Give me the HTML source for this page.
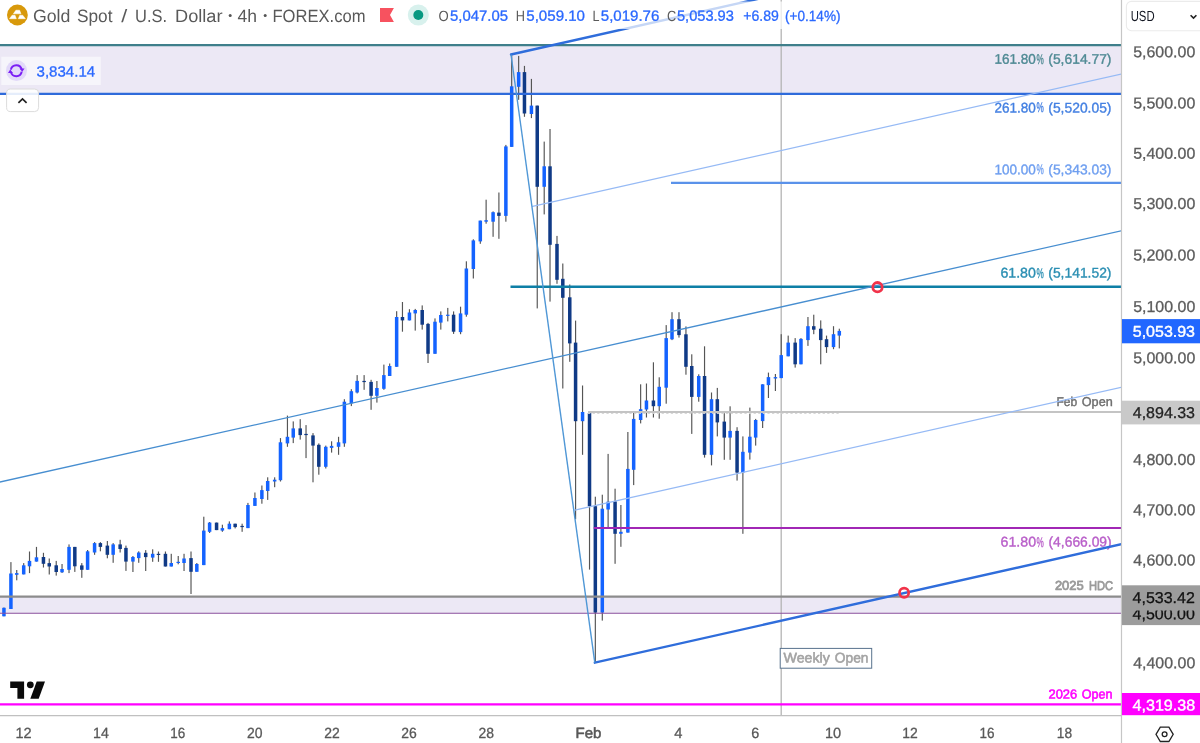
<!DOCTYPE html>
<html><head><meta charset="utf-8"><title>XAUUSD 4h</title>
<style>
html,body{margin:0;padding:0;background:#fff;}
body{width:1200px;height:743px;overflow:hidden;font-family:"Liberation Sans",sans-serif;}
svg{display:block;will-change:transform;font-family:"Liberation Sans",sans-serif;}
</style></head><body>
<svg width="1200" height="743" viewBox="0 0 1200 743">
<rect x="0" y="0" width="1200" height="743" fill="#ffffff"/>
<defs><clipPath id="pane"><rect x="0" y="0" width="1121" height="715.5"/></clipPath></defs>
<g clip-path="url(#pane)">

<rect x="0" y="45.2" width="1121" height="48.7" fill="#ece8f5"/>
<rect x="0" y="596.7" width="1121" height="16.5" fill="#ece8f5"/>
<line x1="781.2" y1="0" x2="781.2" y2="715.5" stroke="#b4b4b4" stroke-width="1.3"/>
<g>
<rect x="3.37" y="607.5" width="1.16" height="8.8" fill="#555555"/>
<rect x="2.2" y="607.8" width="3.5" height="8.5" fill="#1463ff"/>
<rect x="10.34" y="562.1" width="1.16" height="46.9" fill="#555555"/>
<rect x="9.17" y="573.5" width="3.5" height="35.5" fill="#1463ff"/>
<rect x="16.15" y="570" width="1.16" height="10.3" fill="#555555"/>
<rect x="14.98" y="573.1" width="3.5" height="1.7" fill="#1463ff"/>
<rect x="23.12" y="563.1" width="1.16" height="11.3" fill="#555555"/>
<rect x="21.95" y="565.3" width="3.5" height="9.1" fill="#1463ff"/>
<rect x="28.93" y="551.5" width="1.16" height="21.6" fill="#555555"/>
<rect x="27.76" y="560.9" width="3.5" height="5.4" fill="#1463ff"/>
<rect x="35.9" y="546.9" width="1.16" height="14.7" fill="#555555"/>
<rect x="34.73" y="557.3" width="3.5" height="4.3" fill="#1463ff"/>
<rect x="42.87" y="552.8" width="1.16" height="14.7" fill="#555555"/>
<rect x="41.7" y="557" width="3.5" height="6.8" fill="#103a86"/>
<rect x="48.68" y="558.5" width="1.16" height="16" fill="#555555"/>
<rect x="47.51" y="563.1" width="3.5" height="3.4" fill="#103a86"/>
<rect x="55.65" y="560.9" width="1.16" height="14.7" fill="#555555"/>
<rect x="54.48" y="565.3" width="3.5" height="6.7" fill="#103a86"/>
<rect x="61.46" y="564" width="1.16" height="9" fill="#555555"/>
<rect x="60.29" y="569" width="3.5" height="3.3" fill="#1463ff"/>
<rect x="68.44" y="544.4" width="1.16" height="28.7" fill="#555555"/>
<rect x="67.27" y="546.9" width="3.5" height="22.9" fill="#1463ff"/>
<rect x="74.24" y="546.9" width="1.16" height="25" fill="#555555"/>
<rect x="73.07" y="546.9" width="3.5" height="19.4" fill="#103a86"/>
<rect x="81.22" y="563.1" width="1.16" height="14.7" fill="#555555"/>
<rect x="80.05" y="565.4" width="3.5" height="4.4" fill="#103a86"/>
<rect x="87.02" y="550" width="1.16" height="19.8" fill="#555555"/>
<rect x="85.85" y="551.3" width="3.5" height="18.5" fill="#1463ff"/>
<rect x="94" y="542.1" width="1.16" height="12.7" fill="#555555"/>
<rect x="92.83" y="543.1" width="3.5" height="9.4" fill="#1463ff"/>
<rect x="99.8" y="542.1" width="1.16" height="9.2" fill="#555555"/>
<rect x="98.63" y="543.1" width="3.5" height="3.8" fill="#103a86"/>
<rect x="106.78" y="541" width="1.16" height="17.3" fill="#555555"/>
<rect x="105.61" y="545.6" width="3.5" height="9.2" fill="#103a86"/>
<rect x="112.58" y="543.1" width="1.16" height="19.7" fill="#555555"/>
<rect x="111.41" y="544.4" width="3.5" height="10.4" fill="#1463ff"/>
<rect x="119.56" y="539.8" width="1.16" height="12.7" fill="#555555"/>
<rect x="118.39" y="544.4" width="3.5" height="4.6" fill="#103a86"/>
<rect x="125.37" y="545.6" width="1.16" height="25.3" fill="#555555"/>
<rect x="124.2" y="547.9" width="3.5" height="13.7" fill="#103a86"/>
<rect x="132.34" y="556" width="1.16" height="16" fill="#555555"/>
<rect x="131.17" y="557" width="3.5" height="4.6" fill="#1463ff"/>
<rect x="138.15" y="551.3" width="1.16" height="11.5" fill="#555555"/>
<rect x="136.98" y="552.5" width="3.5" height="5.6" fill="#1463ff"/>
<rect x="145.12" y="550.1" width="1.16" height="20.9" fill="#555555"/>
<rect x="143.95" y="552.8" width="3.5" height="4.3" fill="#103a86"/>
<rect x="152.09" y="549.3" width="1.16" height="12.5" fill="#555555"/>
<rect x="150.92" y="553.8" width="3.5" height="3.8" fill="#1463ff"/>
<rect x="157.9" y="551.5" width="1.16" height="10.3" fill="#555555"/>
<rect x="156.73" y="553.8" width="3.5" height="1.2" fill="#103a86"/>
<rect x="164.87" y="551.5" width="1.16" height="15" fill="#555555"/>
<rect x="163.7" y="553.8" width="3.5" height="12.7" fill="#103a86"/>
<rect x="170.68" y="553.8" width="1.16" height="12.7" fill="#555555"/>
<rect x="169.51" y="563" width="3.5" height="3.5" fill="#1463ff"/>
<rect x="177.65" y="556" width="1.16" height="8.3" fill="#555555"/>
<rect x="176.48" y="561.8" width="3.5" height="1.2" fill="#1463ff"/>
<rect x="183.46" y="553.8" width="1.16" height="17.2" fill="#555555"/>
<rect x="182.29" y="558.5" width="3.5" height="4.5" fill="#1463ff"/>
<rect x="190.43" y="551.5" width="1.16" height="42.5" fill="#555555"/>
<rect x="189.26" y="558.1" width="3.5" height="13.7" fill="#103a86"/>
<rect x="196.24" y="563" width="1.16" height="8.8" fill="#555555"/>
<rect x="195.07" y="564" width="3.5" height="7.8" fill="#1463ff"/>
<rect x="203.21" y="516.7" width="1.16" height="48.4" fill="#555555"/>
<rect x="202.04" y="530.6" width="3.5" height="34.5" fill="#1463ff"/>
<rect x="209.02" y="522" width="1.16" height="11" fill="#555555"/>
<rect x="207.85" y="522.6" width="3.5" height="9.2" fill="#1463ff"/>
<rect x="215.99" y="522.6" width="1.16" height="7.5" fill="#555555"/>
<rect x="214.82" y="522.6" width="3.5" height="7.5" fill="#103a86"/>
<rect x="221.8" y="524.7" width="1.16" height="7.1" fill="#555555"/>
<rect x="220.63" y="528.1" width="3.5" height="2.5" fill="#1463ff"/>
<rect x="228.77" y="521.4" width="1.16" height="7.8" fill="#555555"/>
<rect x="227.6" y="523.7" width="3.5" height="5.5" fill="#1463ff"/>
<rect x="234.58" y="523.7" width="1.16" height="4.7" fill="#555555"/>
<rect x="233.41" y="523.7" width="3.5" height="3.4" fill="#103a86"/>
<rect x="241.55" y="523.7" width="1.16" height="8.1" fill="#555555"/>
<rect x="240.38" y="525.9" width="3.5" height="1.2" fill="#103a86"/>
<rect x="247.36" y="502.9" width="1.16" height="25.2" fill="#555555"/>
<rect x="246.19" y="505" width="3.5" height="23.1" fill="#1463ff"/>
<rect x="254.33" y="492.5" width="1.16" height="13.4" fill="#555555"/>
<rect x="253.16" y="498" width="3.5" height="7.9" fill="#1463ff"/>
<rect x="261.3" y="485.5" width="1.16" height="18.2" fill="#555555"/>
<rect x="260.13" y="490.1" width="3.5" height="8.9" fill="#1463ff"/>
<rect x="267.11" y="477.3" width="1.16" height="22.6" fill="#555555"/>
<rect x="265.94" y="481" width="3.5" height="10" fill="#1463ff"/>
<rect x="274.08" y="477.3" width="1.16" height="9.9" fill="#555555"/>
<rect x="272.91" y="479.7" width="3.5" height="1.8" fill="#1463ff"/>
<rect x="279.89" y="438.1" width="1.16" height="43.4" fill="#555555"/>
<rect x="278.72" y="442.3" width="3.5" height="37.9" fill="#1463ff"/>
<rect x="286.86" y="415.6" width="1.16" height="31.2" fill="#555555"/>
<rect x="285.69" y="436.8" width="3.5" height="6.6" fill="#1463ff"/>
<rect x="292.67" y="421.4" width="1.16" height="21.7" fill="#555555"/>
<rect x="291.5" y="428.4" width="3.5" height="9.2" fill="#1463ff"/>
<rect x="299.64" y="419.2" width="1.16" height="20.4" fill="#555555"/>
<rect x="298.47" y="428.4" width="3.5" height="6.7" fill="#103a86"/>
<rect x="305.45" y="425.1" width="1.16" height="33" fill="#555555"/>
<rect x="304.28" y="433.9" width="3.5" height="1.2" fill="#103a86"/>
<rect x="312.42" y="433.1" width="1.16" height="49.2" fill="#555555"/>
<rect x="311.25" y="435.4" width="3.5" height="10.2" fill="#103a86"/>
<rect x="318.23" y="443.4" width="1.16" height="31.3" fill="#555555"/>
<rect x="317.06" y="444.8" width="3.5" height="22" fill="#103a86"/>
<rect x="325.2" y="445.6" width="1.16" height="22.9" fill="#555555"/>
<rect x="324.03" y="446.8" width="3.5" height="20" fill="#1463ff"/>
<rect x="331.01" y="441.3" width="1.16" height="11.3" fill="#555555"/>
<rect x="329.84" y="445.9" width="3.5" height="2" fill="#1463ff"/>
<rect x="337.98" y="436.8" width="1.16" height="18" fill="#555555"/>
<rect x="336.81" y="442.3" width="3.5" height="4.5" fill="#1463ff"/>
<rect x="343.79" y="399.2" width="1.16" height="47.6" fill="#555555"/>
<rect x="342.62" y="401.7" width="3.5" height="41.7" fill="#1463ff"/>
<rect x="350.76" y="389.2" width="1.16" height="16.9" fill="#555555"/>
<rect x="349.59" y="391.2" width="3.5" height="12.2" fill="#1463ff"/>
<rect x="356.57" y="375.1" width="1.16" height="18.3" fill="#555555"/>
<rect x="355.4" y="380.9" width="3.5" height="11.6" fill="#1463ff"/>
<rect x="363.54" y="375.1" width="1.16" height="14.7" fill="#555555"/>
<rect x="362.37" y="380.9" width="3.5" height="1.2" fill="#103a86"/>
<rect x="370.51" y="379.8" width="1.16" height="30" fill="#555555"/>
<rect x="369.34" y="381.9" width="3.5" height="13.9" fill="#103a86"/>
<rect x="376.32" y="381" width="1.16" height="21.6" fill="#555555"/>
<rect x="375.15" y="388" width="3.5" height="7.8" fill="#1463ff"/>
<rect x="383.29" y="364.6" width="1.16" height="25.2" fill="#555555"/>
<rect x="382.12" y="375.1" width="3.5" height="13.7" fill="#1463ff"/>
<rect x="389.1" y="363.5" width="1.16" height="12.5" fill="#555555"/>
<rect x="387.93" y="366" width="3.5" height="10" fill="#1463ff"/>
<rect x="396.07" y="311.2" width="1.16" height="55.6" fill="#555555"/>
<rect x="394.9" y="317" width="3.5" height="49.8" fill="#1463ff"/>
<rect x="401.88" y="302" width="1.16" height="29.7" fill="#555555"/>
<rect x="400.71" y="317" width="3.5" height="3.4" fill="#103a86"/>
<rect x="408.85" y="309.2" width="1.16" height="11.2" fill="#555555"/>
<rect x="407.68" y="312.5" width="3.5" height="7.9" fill="#1463ff"/>
<rect x="414.66" y="308.9" width="1.16" height="21.7" fill="#555555"/>
<rect x="413.49" y="310" width="3.5" height="3.4" fill="#1463ff"/>
<rect x="421.63" y="305.4" width="1.16" height="24.2" fill="#555555"/>
<rect x="420.46" y="310" width="3.5" height="14.7" fill="#103a86"/>
<rect x="427.44" y="322.9" width="1.16" height="40.1" fill="#555555"/>
<rect x="426.27" y="323.9" width="3.5" height="29.9" fill="#103a86"/>
<rect x="434.41" y="318.4" width="1.16" height="35.4" fill="#555555"/>
<rect x="433.24" y="321.7" width="3.5" height="32.1" fill="#1463ff"/>
<rect x="440.22" y="311.4" width="1.16" height="18.2" fill="#555555"/>
<rect x="439.05" y="315" width="3.5" height="7.6" fill="#1463ff"/>
<rect x="447.19" y="307.9" width="1.16" height="13.5" fill="#555555"/>
<rect x="446.02" y="314.7" width="3.5" height="1.2" fill="#1463ff"/>
<rect x="453" y="311.4" width="1.16" height="22.5" fill="#555555"/>
<rect x="451.83" y="314.7" width="3.5" height="17" fill="#103a86"/>
<rect x="459.98" y="306.7" width="1.16" height="27.5" fill="#555555"/>
<rect x="458.81" y="313.4" width="3.5" height="18.7" fill="#1463ff"/>
<rect x="465.78" y="261.3" width="1.16" height="55.4" fill="#555555"/>
<rect x="464.61" y="268.5" width="3.5" height="46.2" fill="#1463ff"/>
<rect x="472.76" y="239.3" width="1.16" height="39.2" fill="#555555"/>
<rect x="471.59" y="240.4" width="3.5" height="28.6" fill="#1463ff"/>
<rect x="479.73" y="220.6" width="1.16" height="23.2" fill="#555555"/>
<rect x="478.56" y="220.6" width="3.5" height="20.8" fill="#1463ff"/>
<rect x="485.54" y="199.7" width="1.16" height="24" fill="#555555"/>
<rect x="484.37" y="220.2" width="3.5" height="1.5" fill="#1463ff"/>
<rect x="492.51" y="211.4" width="1.16" height="25.4" fill="#555555"/>
<rect x="491.34" y="212.2" width="3.5" height="9.5" fill="#1463ff"/>
<rect x="498.32" y="192.5" width="1.16" height="46.3" fill="#555555"/>
<rect x="497.15" y="212.6" width="3.5" height="3.3" fill="#103a86"/>
<rect x="505.29" y="144.9" width="1.16" height="76.8" fill="#555555"/>
<rect x="504.12" y="146.4" width="3.5" height="69.5" fill="#1463ff"/>
<rect x="511.1" y="54.7" width="1.16" height="92.2" fill="#555555"/>
<rect x="509.93" y="86.3" width="3.5" height="60.6" fill="#1463ff"/>
<rect x="518.07" y="55.9" width="1.16" height="43.9" fill="#555555"/>
<rect x="516.9" y="72.1" width="3.5" height="14.7" fill="#1463ff"/>
<rect x="523.88" y="65.9" width="1.16" height="50.9" fill="#555555"/>
<rect x="522.71" y="72.1" width="3.5" height="41.4" fill="#103a86"/>
<rect x="530.85" y="78.9" width="1.16" height="39.2" fill="#555555"/>
<rect x="529.68" y="105.6" width="3.5" height="8.4" fill="#1463ff"/>
<rect x="536.66" y="105.6" width="1.16" height="202.8" fill="#555555"/>
<rect x="535.49" y="105.6" width="3.5" height="81.2" fill="#103a86"/>
<rect x="543.63" y="141.6" width="1.16" height="72.8" fill="#555555"/>
<rect x="542.46" y="166.3" width="3.5" height="20.5" fill="#1463ff"/>
<rect x="549.44" y="129" width="1.16" height="172.6" fill="#555555"/>
<rect x="548.27" y="166.3" width="3.5" height="78.5" fill="#103a86"/>
<rect x="556.41" y="235.9" width="1.16" height="47.9" fill="#555555"/>
<rect x="555.24" y="243.9" width="3.5" height="35.9" fill="#103a86"/>
<rect x="562.22" y="263.5" width="1.16" height="125" fill="#555555"/>
<rect x="561.05" y="278.8" width="3.5" height="19" fill="#103a86"/>
<rect x="569.19" y="284.5" width="1.16" height="77.3" fill="#555555"/>
<rect x="568.02" y="297.3" width="3.5" height="46.1" fill="#103a86"/>
<rect x="575" y="320.6" width="1.16" height="198.6" fill="#555555"/>
<rect x="573.83" y="342.6" width="3.5" height="78.6" fill="#103a86"/>
<rect x="581.97" y="385.5" width="1.16" height="69.3" fill="#555555"/>
<rect x="580.8" y="412" width="3.5" height="9.2" fill="#1463ff"/>
<rect x="588.94" y="412.5" width="1.16" height="157.1" fill="#555555"/>
<rect x="587.77" y="413" width="3.5" height="93.2" fill="#103a86"/>
<rect x="594.75" y="496.7" width="1.16" height="166" fill="#555555"/>
<rect x="593.58" y="506.2" width="3.5" height="106.4" fill="#103a86"/>
<rect x="601.72" y="494.7" width="1.16" height="125.9" fill="#555555"/>
<rect x="600.55" y="508.7" width="3.5" height="103.9" fill="#1463ff"/>
<rect x="607.53" y="453.9" width="1.16" height="73.3" fill="#555555"/>
<rect x="606.36" y="501.7" width="3.5" height="7.8" fill="#1463ff"/>
<rect x="614.5" y="488.7" width="1.16" height="75.1" fill="#555555"/>
<rect x="613.33" y="501.4" width="3.5" height="32.4" fill="#103a86"/>
<rect x="620.31" y="505" width="1.16" height="41.8" fill="#555555"/>
<rect x="619.14" y="531.8" width="3.5" height="2" fill="#1463ff"/>
<rect x="627.28" y="432" width="1.16" height="100.6" fill="#555555"/>
<rect x="626.11" y="468.9" width="3.5" height="63.7" fill="#1463ff"/>
<rect x="633.09" y="413" width="1.16" height="72.1" fill="#555555"/>
<rect x="631.92" y="418.9" width="3.5" height="50.9" fill="#1463ff"/>
<rect x="640.06" y="384.3" width="1.16" height="39.1" fill="#555555"/>
<rect x="638.89" y="409.2" width="3.5" height="10.8" fill="#1463ff"/>
<rect x="645.87" y="383.5" width="1.16" height="34" fill="#555555"/>
<rect x="644.7" y="400.5" width="3.5" height="9" fill="#1463ff"/>
<rect x="652.84" y="362.3" width="1.16" height="55.2" fill="#555555"/>
<rect x="651.67" y="400.5" width="3.5" height="5.7" fill="#103a86"/>
<rect x="658.65" y="377.3" width="1.16" height="41.4" fill="#555555"/>
<rect x="657.48" y="386.8" width="3.5" height="19.4" fill="#1463ff"/>
<rect x="665.62" y="325.1" width="1.16" height="78.6" fill="#555555"/>
<rect x="664.45" y="338.1" width="3.5" height="49.6" fill="#1463ff"/>
<rect x="671.43" y="312.2" width="1.16" height="27.9" fill="#555555"/>
<rect x="670.26" y="319.2" width="3.5" height="20.1" fill="#1463ff"/>
<rect x="678.4" y="312.2" width="1.16" height="25.4" fill="#555555"/>
<rect x="677.23" y="319.2" width="3.5" height="15.9" fill="#103a86"/>
<rect x="685.37" y="326.4" width="1.16" height="48.3" fill="#555555"/>
<rect x="684.2" y="334.3" width="3.5" height="32.5" fill="#103a86"/>
<rect x="691.18" y="354.3" width="1.16" height="79.6" fill="#555555"/>
<rect x="690.01" y="366" width="3.5" height="30.9" fill="#103a86"/>
<rect x="698.15" y="374.3" width="1.16" height="27.4" fill="#555555"/>
<rect x="696.98" y="376" width="3.5" height="20.9" fill="#1463ff"/>
<rect x="703.96" y="346.3" width="1.16" height="111.3" fill="#555555"/>
<rect x="702.79" y="376" width="3.5" height="78.8" fill="#103a86"/>
<rect x="710.93" y="392.5" width="1.16" height="72.9" fill="#555555"/>
<rect x="709.76" y="399.2" width="3.5" height="55.6" fill="#1463ff"/>
<rect x="716.74" y="387.9" width="1.16" height="48.5" fill="#555555"/>
<rect x="715.57" y="399.2" width="3.5" height="23.2" fill="#103a86"/>
<rect x="723.71" y="413.2" width="1.16" height="46.6" fill="#555555"/>
<rect x="722.54" y="421.6" width="3.5" height="16" fill="#103a86"/>
<rect x="729.52" y="406.3" width="1.16" height="53.5" fill="#555555"/>
<rect x="728.35" y="430.9" width="3.5" height="6.7" fill="#1463ff"/>
<rect x="736.49" y="427.2" width="1.16" height="53.4" fill="#555555"/>
<rect x="735.32" y="430.9" width="3.5" height="41.7" fill="#103a86"/>
<rect x="742.3" y="436.4" width="1.16" height="97.4" fill="#555555"/>
<rect x="741.13" y="451.8" width="3.5" height="20.8" fill="#1463ff"/>
<rect x="749.27" y="407.6" width="1.16" height="52" fill="#555555"/>
<rect x="748.1" y="436.7" width="3.5" height="15.9" fill="#1463ff"/>
<rect x="755.08" y="418.9" width="1.16" height="26.7" fill="#555555"/>
<rect x="753.91" y="420" width="3.5" height="17.6" fill="#1463ff"/>
<rect x="762.05" y="384.3" width="1.16" height="43.7" fill="#555555"/>
<rect x="760.88" y="384.3" width="3.5" height="36.8" fill="#1463ff"/>
<rect x="767.86" y="372.6" width="1.16" height="25.4" fill="#555555"/>
<rect x="766.69" y="377.1" width="3.5" height="8" fill="#1463ff"/>
<rect x="774.83" y="374" width="1.16" height="17" fill="#555555"/>
<rect x="773.66" y="377.1" width="3.5" height="1.4" fill="#1463ff"/>
<rect x="780.64" y="334.2" width="1.16" height="43.9" fill="#555555"/>
<rect x="779.47" y="355.1" width="3.5" height="23" fill="#1463ff"/>
<rect x="787.61" y="335.6" width="1.16" height="20.7" fill="#555555"/>
<rect x="786.44" y="342.6" width="3.5" height="13.7" fill="#1463ff"/>
<rect x="794.59" y="338.1" width="1.16" height="29.5" fill="#555555"/>
<rect x="793.42" y="342.6" width="3.5" height="21.7" fill="#103a86"/>
<rect x="800.39" y="338.1" width="1.16" height="26.2" fill="#555555"/>
<rect x="799.22" y="338.9" width="3.5" height="25.4" fill="#1463ff"/>
<rect x="807.37" y="317" width="1.16" height="28.9" fill="#555555"/>
<rect x="806.2" y="326.2" width="3.5" height="13.9" fill="#1463ff"/>
<rect x="813.17" y="314.7" width="1.16" height="19.5" fill="#555555"/>
<rect x="812" y="326.2" width="3.5" height="3.5" fill="#103a86"/>
<rect x="820.15" y="320.4" width="1.16" height="43.9" fill="#555555"/>
<rect x="818.98" y="328.7" width="3.5" height="11.4" fill="#103a86"/>
<rect x="825.95" y="335.6" width="1.16" height="17.3" fill="#555555"/>
<rect x="824.78" y="339.2" width="3.5" height="7.9" fill="#103a86"/>
<rect x="832.93" y="326.2" width="1.16" height="23" fill="#555555"/>
<rect x="831.76" y="334.2" width="3.5" height="12.9" fill="#1463ff"/>
<rect x="838.73" y="328.7" width="1.16" height="19.7" fill="#555555"/>
<rect x="837.56" y="330.9" width="3.5" height="4.7" fill="#1463ff"/>
</g>
<line x1="588" y1="413.4" x2="841" y2="413.4" stroke="#d4d4d4" stroke-width="1" stroke-dasharray="2.3 2.3"/>
<line x1="0" y1="45.2" x2="1121" y2="45.2" stroke="#3f7f8b" stroke-width="2.2"/>
<line x1="0" y1="93.9" x2="1121" y2="93.9" stroke="#2f6bdb" stroke-width="2.2"/>
<line x1="671" y1="182.9" x2="1121" y2="182.9" stroke="#5a92ea" stroke-width="2.1"/>
<line x1="510.5" y1="286.8" x2="1121" y2="286.8" stroke="#0e7fa6" stroke-width="2.4"/>
<line x1="588" y1="412" x2="1121" y2="412" stroke="#c4c4c4" stroke-width="1.8"/>
<line x1="593.8" y1="528" x2="1121" y2="528" stroke="#a127b5" stroke-width="2.2"/>
<line x1="0" y1="596.7" x2="1121" y2="596.7" stroke="#8c8c8c" stroke-width="2.2"/>
<line x1="0" y1="613.2" x2="1121" y2="613.2" stroke="#8a4f9c" stroke-width="1.1"/>
<line x1="0" y1="704.4" x2="1121" y2="704.4" stroke="#ff00ff" stroke-width="2.3"/>
<text transform="rotate(0.03 994.5 63.7)" x="994.5" y="63.7" font-size="14.0" font-weight="normal" fill="#4f8a94" stroke="#4f8a94" stroke-width="0.36" stroke-linejoin="round" textLength="41.4" lengthAdjust="spacingAndGlyphs">161.80</text>
<text transform="rotate(0.03 1036.4 63.7)" x="1036.4" y="63.7" font-size="14.0" font-weight="normal" fill="#4f8a94" stroke="#4f8a94" stroke-width="0.36" stroke-linejoin="round" textLength="7.3" lengthAdjust="spacingAndGlyphs">%</text>
<text transform="rotate(0.03 1048.3 63.7)" x="1048.3" y="63.7" font-size="14.0" font-weight="normal" fill="#4f8a94" stroke="#4f8a94" stroke-width="0.36" stroke-linejoin="round" textLength="63.2" lengthAdjust="spacingAndGlyphs">(5,614.77)</text>
<text transform="rotate(0.03 994.5 112.5)" x="994.5" y="112.5" font-size="14.0" font-weight="normal" fill="#4480e2" stroke="#4480e2" stroke-width="0.36" stroke-linejoin="round" textLength="41.4" lengthAdjust="spacingAndGlyphs">261.80</text>
<text transform="rotate(0.03 1036.4 112.5)" x="1036.4" y="112.5" font-size="14.0" font-weight="normal" fill="#4480e2" stroke="#4480e2" stroke-width="0.36" stroke-linejoin="round" textLength="7.3" lengthAdjust="spacingAndGlyphs">%</text>
<text transform="rotate(0.03 1048.3 112.5)" x="1048.3" y="112.5" font-size="14.0" font-weight="normal" fill="#4480e2" stroke="#4480e2" stroke-width="0.36" stroke-linejoin="round" textLength="63.2" lengthAdjust="spacingAndGlyphs">(5,520.05)</text>
<text transform="rotate(0.03 994.5 174.2)" x="994.5" y="174.2" font-size="14.0" font-weight="normal" fill="#6f9ff0" stroke="#6f9ff0" stroke-width="0.36" stroke-linejoin="round" textLength="41.4" lengthAdjust="spacingAndGlyphs">100.00</text>
<text transform="rotate(0.03 1036.4 174.2)" x="1036.4" y="174.2" font-size="14.0" font-weight="normal" fill="#6f9ff0" stroke="#6f9ff0" stroke-width="0.36" stroke-linejoin="round" textLength="7.3" lengthAdjust="spacingAndGlyphs">%</text>
<text transform="rotate(0.03 1048.3 174.2)" x="1048.3" y="174.2" font-size="14.0" font-weight="normal" fill="#6f9ff0" stroke="#6f9ff0" stroke-width="0.36" stroke-linejoin="round" textLength="63.2" lengthAdjust="spacingAndGlyphs">(5,343.03)</text>
<text transform="rotate(0.03 1000.4 277.6)" x="1000.4" y="277.6" font-size="14.0" font-weight="normal" fill="#2b8fb3" stroke="#2b8fb3" stroke-width="0.36" stroke-linejoin="round" textLength="35.5" lengthAdjust="spacingAndGlyphs">61.80</text>
<text transform="rotate(0.03 1036.4 277.6)" x="1036.4" y="277.6" font-size="14.0" font-weight="normal" fill="#2b8fb3" stroke="#2b8fb3" stroke-width="0.36" stroke-linejoin="round" textLength="7.3" lengthAdjust="spacingAndGlyphs">%</text>
<text transform="rotate(0.03 1048.3 277.6)" x="1048.3" y="277.6" font-size="14.0" font-weight="normal" fill="#2b8fb3" stroke="#2b8fb3" stroke-width="0.36" stroke-linejoin="round" textLength="63.2" lengthAdjust="spacingAndGlyphs">(5,141.52)</text>
<text transform="rotate(0.03 1000.6 546.6)" x="1000.6" y="546.6" font-size="14.0" font-weight="normal" fill="#b95fc9" stroke="#b95fc9" stroke-width="0.36" stroke-linejoin="round" textLength="35.5" lengthAdjust="spacingAndGlyphs">61.80</text>
<text transform="rotate(0.03 1036.6 546.6)" x="1036.6" y="546.6" font-size="14.0" font-weight="normal" fill="#b95fc9" stroke="#b95fc9" stroke-width="0.36" stroke-linejoin="round" textLength="7.3" lengthAdjust="spacingAndGlyphs">%</text>
<text transform="rotate(0.03 1048.5 546.6)" x="1048.5" y="546.6" font-size="14.0" font-weight="normal" fill="#b95fc9" stroke="#b95fc9" stroke-width="0.36" stroke-linejoin="round" textLength="63.2" lengthAdjust="spacingAndGlyphs">(4,666.09)</text>
<text transform="rotate(0.03 1056.4 406)" x="1056.4" y="406" font-size="12.8" font-weight="normal" fill="#6c6c6c" stroke="#6c6c6c" stroke-width="0.4" stroke-linejoin="round" textLength="20.8" lengthAdjust="spacingAndGlyphs">Feb</text>
<text transform="rotate(0.03 1081.8 406)" x="1081.8" y="406" font-size="12.8" font-weight="normal" fill="#6c6c6c" stroke="#6c6c6c" stroke-width="0.4" stroke-linejoin="round" textLength="30.9" lengthAdjust="spacingAndGlyphs">Open</text>
<text transform="rotate(0.03 1054.9 589.8)" x="1054.9" y="589.8" font-size="12.8" font-weight="normal" fill="#9a9a9a" stroke="#9a9a9a" stroke-width="0.8" stroke-linejoin="round" textLength="28.8" lengthAdjust="spacingAndGlyphs">2025</text>
<text transform="rotate(0.03 1088.9 589.8)" x="1088.9" y="589.8" font-size="12.8" font-weight="normal" fill="#9a9a9a" stroke="#9a9a9a" stroke-width="0.8" stroke-linejoin="round" textLength="24.1" lengthAdjust="spacingAndGlyphs">HDC</text>
<text transform="rotate(0.03 1048.5 698.6)" x="1048.5" y="698.6" font-size="13" font-weight="normal" fill="#ff00ff" stroke="#ff00ff" stroke-width="0.55" stroke-linejoin="round" textLength="28.7" lengthAdjust="spacingAndGlyphs">2026</text>
<text transform="rotate(0.03 1081.8 698.6)" x="1081.8" y="698.6" font-size="13" font-weight="normal" fill="#ff00ff" stroke="#ff00ff" stroke-width="0.55" stroke-linejoin="round" textLength="30.8" lengthAdjust="spacingAndGlyphs">Open</text>
<line x1="-5" y1="483.1" x2="1125" y2="229.9" stroke="#478ed0" stroke-width="1.3"/>
<line x1="511" y1="54.5" x2="800" y2="-10.53" stroke="#2f6ddb" stroke-width="2.35" stroke-linecap="round"/>
<line x1="594.8" y1="662.7" x2="1125" y2="543.4" stroke="#2f6ddb" stroke-width="2.35" stroke-linecap="round"/>
<line x1="532.6" y1="206.4" x2="1125" y2="73.11" stroke="#96baf5" stroke-width="1.2" stroke-linecap="round"/>
<line x1="574.8" y1="510.2" x2="1125" y2="386.4" stroke="#96baf5" stroke-width="1.2" stroke-linecap="round"/>
<line x1="511" y1="54.5" x2="594.8" y2="662.7" stroke="#4f97d6" stroke-width="1.4"/>
<circle cx="877.5" cy="287.2" r="4.7" fill="none" stroke="#f1334a" stroke-width="2.8"/>
<circle cx="904.1" cy="592.7" r="4.6" fill="none" stroke="#f1334a" stroke-width="2.7"/>
<rect x="780.2" y="648.4" width="91.5" height="19.8" fill="#ffffff" stroke="#58728d" stroke-width="1"/>
<text transform="rotate(0.03 783.5 662.4)" x="783.5" y="662.4" font-size="14" font-weight="normal" fill="#a3a3a3" stroke="#a3a3a3" stroke-width="0.55" stroke-linejoin="round" textLength="46.3" lengthAdjust="spacingAndGlyphs">Weekly</text>
<text transform="rotate(0.03 834.8 662.4)" x="834.8" y="662.4" font-size="14" font-weight="normal" fill="#a3a3a3" stroke="#a3a3a3" stroke-width="0.55" stroke-linejoin="round" textLength="33.7" lengthAdjust="spacingAndGlyphs">Open</text>
<path d="M10.2 681.4H24.1V698.8H17.4V688H10.2Z" fill="#0a0a0a"/>
<circle cx="30.3" cy="684.8" r="3.4" fill="#0a0a0a"/>
<path d="M36.7 681.4H45L38.7 698.8H30.3Z" fill="#0a0a0a"/>
</g>
<g>
<rect x="0" y="1.5" width="846" height="27.5" fill="#ffffff" fill-opacity="0.72"/>
<circle cx="17.4" cy="15" r="10.4" fill="#d8990b"/>
<path d="M15.9 10.2H19.6L21 13.8H13.4Z M12.1 15.2H15L16.3 18.7H9.5Z M19.8 15.2H22.7L25.4 18.7H18.3Z" fill="#ffffff" stroke="#ffffff" stroke-width="0.5" stroke-linejoin="round"/>
<text transform="rotate(0.03 33 22)" x="33" y="22" font-size="17.8" font-weight="normal" fill="#595959" textLength="37.4" lengthAdjust="spacingAndGlyphs">Gold</text>
<text transform="rotate(0.03 77 22)" x="77" y="22" font-size="17.8" font-weight="normal" fill="#595959" textLength="35.5" lengthAdjust="spacingAndGlyphs">Spot</text>
<text transform="rotate(0.03 121.3 22)" x="121.3" y="22" font-size="17.8" font-weight="normal" fill="#595959" textLength="6" lengthAdjust="spacingAndGlyphs">/</text>
<text transform="rotate(0.03 135 22)" x="135" y="22" font-size="17.8" font-weight="normal" fill="#595959" textLength="32" lengthAdjust="spacingAndGlyphs">U.S.</text>
<text transform="rotate(0.03 175 22)" x="175" y="22" font-size="17.8" font-weight="normal" fill="#595959" textLength="47.5" lengthAdjust="spacingAndGlyphs">Dollar</text>
<text transform="rotate(0.03 237.5 22)" x="237.5" y="22" font-size="17.8" font-weight="normal" fill="#595959" textLength="19.5" lengthAdjust="spacingAndGlyphs">4h</text>
<text transform="rotate(0.03 272.5 22)" x="272.5" y="22" font-size="17.8" font-weight="normal" fill="#595959" textLength="93" lengthAdjust="spacingAndGlyphs">FOREX.com</text>
<circle cx="230.2" cy="15.6" r="1.5" fill="#555555"/><circle cx="265.2" cy="15.6" r="1.5" fill="#555555"/>
<path d="M380 8h13.9l-3.9 6.95 3.9 6.95H380z" fill="#f7525f"/>
<circle cx="418.3" cy="15" r="10.5" fill="#d8f1ed"/>
<circle cx="418.3" cy="15" r="5" fill="#089981"/>
<text transform="rotate(0.03 438.6 20.7)" x="438.6" y="20.7" font-size="14.8" font-weight="normal" fill="#5a5a5a" textLength="10.2" lengthAdjust="spacingAndGlyphs">O</text>
<text transform="rotate(0.03 450 20.7)" x="450" y="20.7" font-size="14.8" font-weight="normal" fill="#2a68ff" stroke="#2a68ff" stroke-width="0.3" stroke-linejoin="round" textLength="58" lengthAdjust="spacingAndGlyphs">5,047.05</text>
<text transform="rotate(0.03 515.8 20.7)" x="515.8" y="20.7" font-size="14.8" font-weight="normal" fill="#5a5a5a" textLength="9.2" lengthAdjust="spacingAndGlyphs">H</text>
<text transform="rotate(0.03 526.3 20.7)" x="526.3" y="20.7" font-size="14.8" font-weight="normal" fill="#2a68ff" stroke="#2a68ff" stroke-width="0.3" stroke-linejoin="round" textLength="58.7" lengthAdjust="spacingAndGlyphs">5,059.10</text>
<text transform="rotate(0.03 592.5 20.7)" x="592.5" y="20.7" font-size="14.8" font-weight="normal" fill="#5a5a5a" textLength="7" lengthAdjust="spacingAndGlyphs">L</text>
<text transform="rotate(0.03 600.8 20.7)" x="600.8" y="20.7" font-size="14.8" font-weight="normal" fill="#2a68ff" stroke="#2a68ff" stroke-width="0.3" stroke-linejoin="round" textLength="58.5" lengthAdjust="spacingAndGlyphs">5,019.76</text>
<text transform="rotate(0.03 667 20.7)" x="667" y="20.7" font-size="14.8" font-weight="normal" fill="#5a5a5a" textLength="9.2" lengthAdjust="spacingAndGlyphs">C</text>
<text transform="rotate(0.03 677 20.7)" x="677" y="20.7" font-size="14.8" font-weight="normal" fill="#2a68ff" stroke="#2a68ff" stroke-width="0.3" stroke-linejoin="round" textLength="56.8" lengthAdjust="spacingAndGlyphs">5,053.93</text>
<text transform="rotate(0.03 743.3 20.7)" x="743.3" y="20.7" font-size="14.8" font-weight="normal" fill="#2a68ff" stroke="#2a68ff" stroke-width="0.3" stroke-linejoin="round" textLength="35.5" lengthAdjust="spacingAndGlyphs">+6.89</text>
<text transform="rotate(0.03 785 20.7)" x="785" y="20.7" font-size="14.8" font-weight="normal" fill="#2a68ff" stroke="#2a68ff" stroke-width="0.3" stroke-linejoin="round" textLength="55.5" lengthAdjust="spacingAndGlyphs">(+0.14%)</text>
<rect x="1.3" y="56.7" width="99.5" height="28.3" fill="#ffffff" fill-opacity="0.55"/>
<circle cx="16.5" cy="70.6" r="10.5" fill="#e2d9f9"/>
<g fill="none" stroke="#7b1ff5" stroke-width="2"><path d="M10.9 69.7A5.5 5.5 0 0 1 21.7 69.5"/><path d="M21.7 71.7A5.5 5.5 0 0 1 10.9 71.9"/></g>
<path d="M19.5 68.5H24.5L22.3 71.8Z" fill="#7b1ff5"/><path d="M8 72.9H13L10.2 69.6Z" fill="#7b1ff5"/>
<text transform="rotate(0.03 36.5 76.6)" x="36.5" y="76.6" font-size="14.8" font-weight="normal" fill="#2a68ff" stroke="#2a68ff" stroke-width="0.3" stroke-linejoin="round" textLength="58.7" lengthAdjust="spacingAndGlyphs">3,834.14</text>
<rect x="6.6" y="89" width="32" height="22.6" rx="4" fill="#ffffff" fill-opacity="0.88" stroke="#dcdcdc" stroke-width="1"/>
<path d="M18.4 102.9l4.1-4 4.1 4" fill="none" stroke="#222" stroke-width="1.7"/>
</g>
<g>
<rect x="1122" y="0" width="78" height="743" fill="#ffffff"/>
<line x1="1121.5" y1="0" x2="1121.5" y2="743" stroke="#c6c6c6" stroke-width="1.2"/>
<line x1="0" y1="715.6" x2="1121.5" y2="715.6" stroke="#c0c0c0" stroke-width="1.1"/>
<text transform="rotate(0.03 1133.2 57.16)" x="1133.2" y="57.16" font-size="15.8" font-weight="normal" fill="#5c5c5c" stroke="#5c5c5c" stroke-width="0.3" stroke-linejoin="round" textLength="62.1" lengthAdjust="spacingAndGlyphs">5,600.00</text>
<text transform="rotate(0.03 1133.2 108.57)" x="1133.2" y="108.57" font-size="15.8" font-weight="normal" fill="#5c5c5c" stroke="#5c5c5c" stroke-width="0.3" stroke-linejoin="round" textLength="62.1" lengthAdjust="spacingAndGlyphs">5,500.00</text>
<text transform="rotate(0.03 1133.2 158.82)" x="1133.2" y="158.82" font-size="15.8" font-weight="normal" fill="#5c5c5c" stroke="#5c5c5c" stroke-width="0.3" stroke-linejoin="round" textLength="62.1" lengthAdjust="spacingAndGlyphs">5,400.00</text>
<text transform="rotate(0.03 1133.2 209.06)" x="1133.2" y="209.06" font-size="15.8" font-weight="normal" fill="#5c5c5c" stroke="#5c5c5c" stroke-width="0.3" stroke-linejoin="round" textLength="62.1" lengthAdjust="spacingAndGlyphs">5,300.00</text>
<text transform="rotate(0.03 1133.2 260.48)" x="1133.2" y="260.48" font-size="15.8" font-weight="normal" fill="#5c5c5c" stroke="#5c5c5c" stroke-width="0.3" stroke-linejoin="round" textLength="62.1" lengthAdjust="spacingAndGlyphs">5,200.00</text>
<text transform="rotate(0.03 1133.2 311.89)" x="1133.2" y="311.89" font-size="15.8" font-weight="normal" fill="#5c5c5c" stroke="#5c5c5c" stroke-width="0.3" stroke-linejoin="round" textLength="62.1" lengthAdjust="spacingAndGlyphs">5,100.00</text>
<text transform="rotate(0.03 1133.2 363.3)" x="1133.2" y="363.3" font-size="15.8" font-weight="normal" fill="#5c5c5c" stroke="#5c5c5c" stroke-width="0.3" stroke-linejoin="round" textLength="62.1" lengthAdjust="spacingAndGlyphs">5,000.00</text>
<text transform="rotate(0.03 1133.2 413.55)" x="1133.2" y="413.55" font-size="15.8" font-weight="normal" fill="#5c5c5c" stroke="#5c5c5c" stroke-width="0.3" stroke-linejoin="round" textLength="62.1" lengthAdjust="spacingAndGlyphs">4,900.00</text>
<text transform="rotate(0.03 1133.2 464.96)" x="1133.2" y="464.96" font-size="15.8" font-weight="normal" fill="#5c5c5c" stroke="#5c5c5c" stroke-width="0.3" stroke-linejoin="round" textLength="62.1" lengthAdjust="spacingAndGlyphs">4,800.00</text>
<text transform="rotate(0.03 1133.2 515.21)" x="1133.2" y="515.21" font-size="15.8" font-weight="normal" fill="#5c5c5c" stroke="#5c5c5c" stroke-width="0.3" stroke-linejoin="round" textLength="62.1" lengthAdjust="spacingAndGlyphs">4,700.00</text>
<text transform="rotate(0.03 1133.2 565.45)" x="1133.2" y="565.45" font-size="15.8" font-weight="normal" fill="#5c5c5c" stroke="#5c5c5c" stroke-width="0.3" stroke-linejoin="round" textLength="62.1" lengthAdjust="spacingAndGlyphs">4,600.00</text>
<text transform="rotate(0.03 1133.2 616.87)" x="1133.2" y="616.87" font-size="15.8" font-weight="normal" fill="#5c5c5c" stroke="#5c5c5c" stroke-width="0.3" stroke-linejoin="round" textLength="62.1" lengthAdjust="spacingAndGlyphs">4,500.00</text>
<text transform="rotate(0.03 1133.2 668.28)" x="1133.2" y="668.28" font-size="15.8" font-weight="normal" fill="#5c5c5c" stroke="#5c5c5c" stroke-width="0.3" stroke-linejoin="round" textLength="62.1" lengthAdjust="spacingAndGlyphs">4,400.00</text>
<rect x="1122" y="601.5" width="78" height="23.6" fill="#9c9c9c"/>
<text transform="rotate(0.03 1132.6 619.2)" x="1132.6" y="619.2" font-size="15.7" font-weight="normal" fill="#111111" stroke="#111111" stroke-width="0.3" stroke-linejoin="round" textLength="62.2" lengthAdjust="spacingAndGlyphs">4,500.00</text>
<rect x="1122" y="585.3" width="78" height="25.2" fill="#9c9c9c"/>
<text transform="rotate(0.03 1132.6 602.9)" x="1132.6" y="602.9" font-size="15.7" font-weight="normal" fill="#111111" stroke="#111111" stroke-width="0.3" stroke-linejoin="round" textLength="62.2" lengthAdjust="spacingAndGlyphs">4,533.42</text>
<rect x="1122" y="319.1" width="78" height="24.2" fill="#2167ff"/>
<text transform="rotate(0.03 1132.8 336.7)" x="1132.8" y="336.7" font-size="15.6" font-weight="normal" fill="#ffffff" stroke="#ffffff" stroke-width="0.4" stroke-linejoin="round" textLength="62.2" lengthAdjust="spacingAndGlyphs">5,053.93</text>
<rect x="1122" y="400.7" width="78" height="23.7" fill="#c9c9c9"/>
<text transform="rotate(0.03 1132.8 418)" x="1132.8" y="418" font-size="15.7" font-weight="normal" fill="#222222" stroke="#222222" stroke-width="0.3" stroke-linejoin="round" textLength="62.2" lengthAdjust="spacingAndGlyphs">4,894.33</text>
<rect x="1122" y="693" width="78" height="22.2" fill="#ff00ff"/>
<text transform="rotate(0.03 1132.5 710.5)" x="1132.5" y="710.5" font-size="15.6" font-weight="normal" fill="#ffffff" stroke="#ffffff" stroke-width="0.4" stroke-linejoin="round" textLength="62.7" lengthAdjust="spacingAndGlyphs">4,319.38</text>
<rect x="1126.4" y="1.4" width="90" height="29.3" rx="5" fill="#ffffff" stroke="#ebebeb" stroke-width="1.1"/>
<text transform="rotate(0.03 1130.7 20.7)" x="1130.7" y="20.7" font-size="14.6" font-weight="normal" fill="#131722" textLength="23.9" lengthAdjust="spacingAndGlyphs">USD</text>
<path d="M1190.6 15.2l2.9 2.9 2.9-2.9" fill="none" stroke="#222" stroke-width="1.6"/>
<path d="M1156 734.3l4.3-7.2h8.6l4.3 7.2-4.3 7.2h-8.6z" fill="none" stroke="#222" stroke-width="1.3"/>
<circle cx="1164.6" cy="734.3" r="2.4" fill="none" stroke="#222" stroke-width="1.3"/>
</g>
<g>
<text transform="rotate(0.03 15.5 738)" x="15.5" y="738" font-size="14.8" font-weight="normal" fill="#585858" stroke="#585858" stroke-width="0.3" stroke-linejoin="round" textLength="16.2" lengthAdjust="spacingAndGlyphs">12</text>
<text transform="rotate(0.03 93 738)" x="93" y="738" font-size="14.8" font-weight="normal" fill="#585858" stroke="#585858" stroke-width="0.3" stroke-linejoin="round" textLength="15.8" lengthAdjust="spacingAndGlyphs">14</text>
<text transform="rotate(0.03 170.3 738)" x="170.3" y="738" font-size="14.8" font-weight="normal" fill="#585858" stroke="#585858" stroke-width="0.3" stroke-linejoin="round" textLength="15" lengthAdjust="spacingAndGlyphs">16</text>
<text transform="rotate(0.03 247.05 738)" x="247.05" y="738" font-size="14.8" font-weight="normal" fill="#585858" stroke="#585858" stroke-width="0.3" stroke-linejoin="round" textLength="15.5" lengthAdjust="spacingAndGlyphs">20</text>
<text transform="rotate(0.03 324.25 738)" x="324.25" y="738" font-size="14.8" font-weight="normal" fill="#585858" stroke="#585858" stroke-width="0.3" stroke-linejoin="round" textLength="15.5" lengthAdjust="spacingAndGlyphs">22</text>
<text transform="rotate(0.03 401.35 738)" x="401.35" y="738" font-size="14.8" font-weight="normal" fill="#585858" stroke="#585858" stroke-width="0.3" stroke-linejoin="round" textLength="15.5" lengthAdjust="spacingAndGlyphs">26</text>
<text transform="rotate(0.03 478.45 738)" x="478.45" y="738" font-size="14.8" font-weight="normal" fill="#585858" stroke="#585858" stroke-width="0.3" stroke-linejoin="round" textLength="15.5" lengthAdjust="spacingAndGlyphs">28</text>
<text transform="rotate(0.03 575.5 738)" x="575.5" y="738" font-size="14.8" font-weight="normal" fill="#585858" stroke="#585858" stroke-width="0.55" stroke-linejoin="round" textLength="25.8" lengthAdjust="spacingAndGlyphs">Feb</text>
<text transform="rotate(0.03 674.3 738)" x="674.3" y="738" font-size="14.8" font-weight="normal" fill="#585858" stroke="#585858" stroke-width="0.3" stroke-linejoin="round" textLength="8.2" lengthAdjust="spacingAndGlyphs">4</text>
<text transform="rotate(0.03 751.3 738)" x="751.3" y="738" font-size="14.8" font-weight="normal" fill="#585858" stroke="#585858" stroke-width="0.3" stroke-linejoin="round" textLength="8" lengthAdjust="spacingAndGlyphs">6</text>
<text transform="rotate(0.03 825 738)" x="825" y="738" font-size="14.8" font-weight="normal" fill="#585858" stroke="#585858" stroke-width="0.3" stroke-linejoin="round" textLength="16.2" lengthAdjust="spacingAndGlyphs">10</text>
<text transform="rotate(0.03 902.25 738)" x="902.25" y="738" font-size="14.8" font-weight="normal" fill="#585858" stroke="#585858" stroke-width="0.3" stroke-linejoin="round" textLength="15.5" lengthAdjust="spacingAndGlyphs">12</text>
<text transform="rotate(0.03 979.5 738)" x="979.5" y="738" font-size="14.8" font-weight="normal" fill="#585858" stroke="#585858" stroke-width="0.3" stroke-linejoin="round" textLength="15" lengthAdjust="spacingAndGlyphs">16</text>
<text transform="rotate(0.03 1056.75 738)" x="1056.75" y="738" font-size="14.8" font-weight="normal" fill="#585858" stroke="#585858" stroke-width="0.3" stroke-linejoin="round" textLength="15.3" lengthAdjust="spacingAndGlyphs">18</text>
</g>
</svg></body></html>
